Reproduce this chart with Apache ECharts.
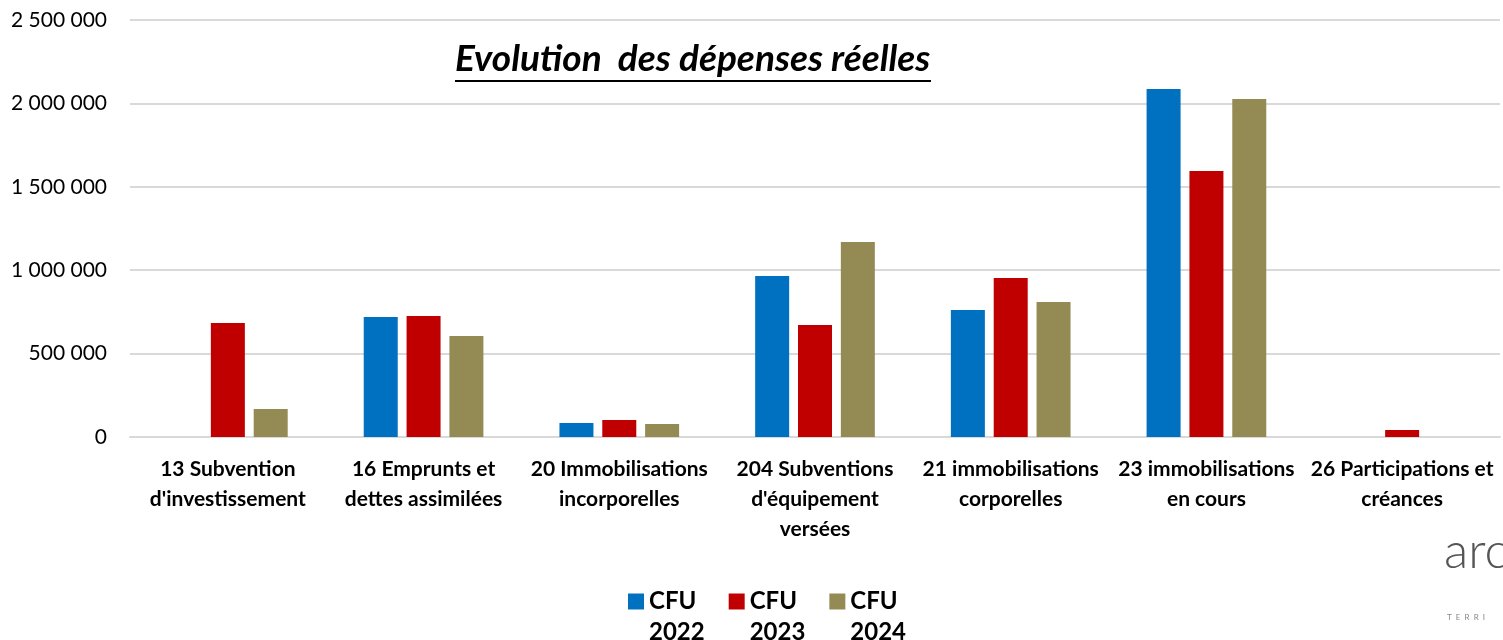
<!DOCTYPE html>
<html><head><meta charset="utf-8">
<script src="https://cdn.jsdelivr.net/npm/echarts@6/dist/echarts.min.js"></script>
<style>html,body{margin:0;padding:0;background:#fff}#c{width:1503px;height:640px}</style>
</head><body><div id="c"></div>
<script>
const categories = ["13 Subvention\nd'investissement","16 Emprunts et\ndettes assimilées","20 Immobilisations\nincorporelles","204 Subventions\nd'équipement\nversées","21 immobilisations\ncorporelles","23 immobilisations\nen cours","26 Participations et\ncréances"];
const seriesNames = ["CFU 2022","CFU 2023","CFU 2024"];
const cfu2022 = [null, 719000, 84000, 965000, 761000, 2086000, null];
const cfu2023 = [683000, 725000, 102000, 671000, 953000, 1595000, 42000];
const cfu2024 = [168000, 605000, 78000, 1169000, 809000, 2026000, null];
const colors = ["#0070C0","#C00000","#948A54"];
const FONT = "Lato, 'Open Sans', sans-serif";
const chart = echarts.init(document.getElementById('c'));
const fmt = v => String(v).replace(/\B(?=(\d{3})+(?!\d))/g, ' ');
chart.setOption({
  animation:false,
  color: colors,
  grid:{left:130,right:3,top:20,bottom:203,containLabel:false},
  xAxis:{type:'category',data:categories,
    axisLine:{show:true,lineStyle:{color:'#d9d9d9',width:2}},axisTick:{show:false},
    axisLabel:{interval:0,margin:17,fontFamily:FONT,fontWeight:'bold',fontSize:21,lineHeight:30,color:'#000'}},
  yAxis:{type:'value',min:0,max:2500000,interval:500000,
    splitLine:{lineStyle:{color:'#d9d9d9',width:2}},axisLine:{show:false},axisTick:{show:false},
    axisLabel:{margin:23,fontFamily:FONT,fontSize:21,color:'#000',formatter:fmt}},
  legend:{top:550,left:623,itemWidth:16,itemHeight:16,itemGap:24,icon:'rect',
    formatter:n=>' \n'+n.replace(' ','\n'),
    textStyle:{fontFamily:FONT,fontWeight:'bold',fontSize:24,lineHeight:31,color:'#000'},
    data:seriesNames},
  series:[
    {name:seriesNames[0],type:'bar',data:cfu2022,barWidth:34,barGap:'26%'},
    {name:seriesNames[1],type:'bar',data:cfu2023,barWidth:34,barGap:'26%'},
    {name:seriesNames[2],type:'bar',data:cfu2024,barWidth:34,barGap:'26%'}
  ],
  graphic:[
    {type:'text',left:455,top:41,style:{text:'Evolution  des dépenses réelles',fontFamily:FONT,fontSize:37,fontWeight:'bold',fontStyle:'italic',fill:'#000'}},
    {type:'rect',left:455,top:80,shape:{width:476,height:2},style:{fill:'#000'}},
    {type:'text',left:1444,top:527,style:{text:'arc',fontFamily:FONT,fontSize:50,fontWeight:300,fill:'#555'}},
    {type:'text',left:1447,top:613,style:{text:'T  E  R  R  I',fontFamily:FONT,fontSize:8,fill:'#888'}}
  ]
});
</script></body></html>
